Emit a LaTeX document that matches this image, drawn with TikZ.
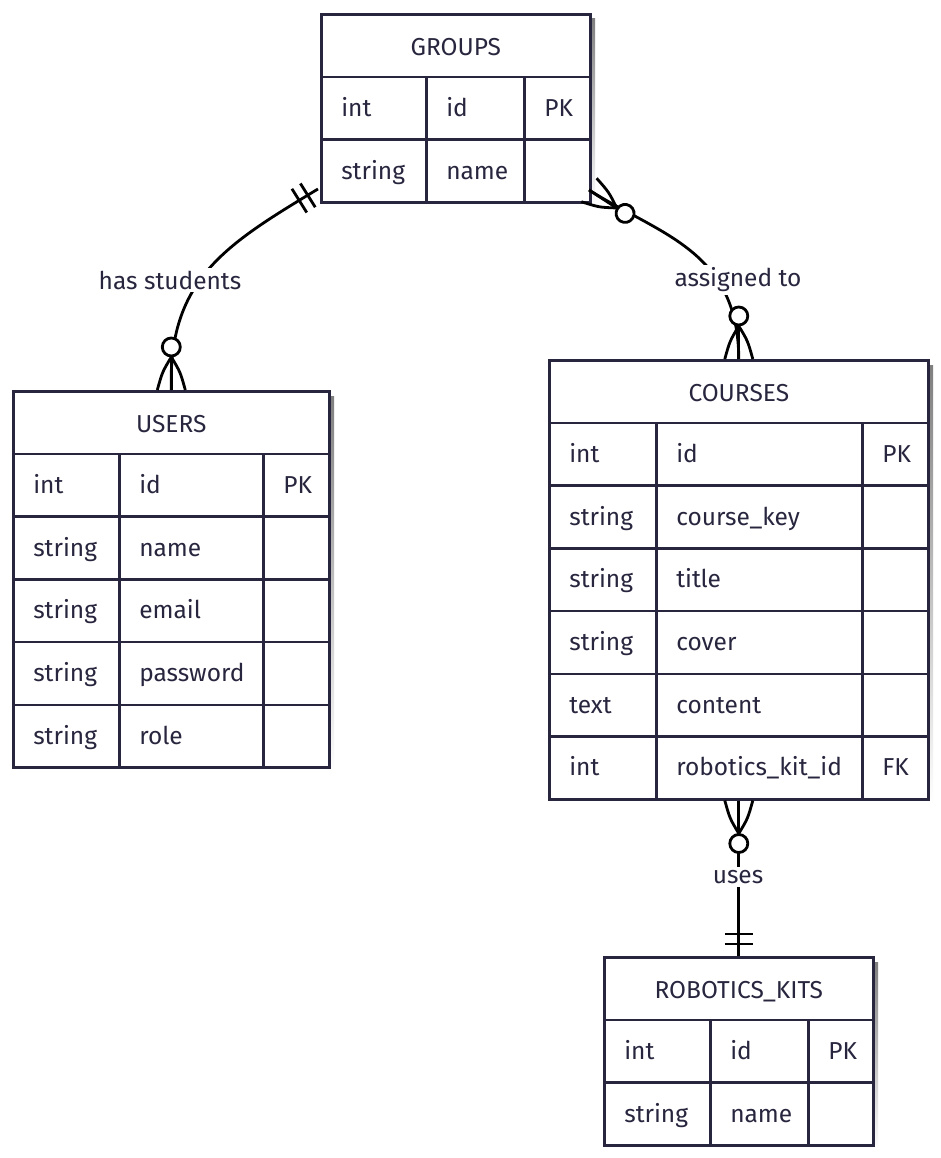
\documentclass[tikz,border=0pt]{standalone}
\usepackage{fontspec}
\setmainfont{Fira Sans}
\definecolor{ink}{RGB}{40,38,62}
\definecolor{shade}{RGB}{240,240,242}
\newcommand\cellfont{\fontsize{24.5}{28}\selectfont}

% One ER entity: name, left x, 2nd column x, 3rd column x, right x, top y, title, rows (type/name/key)
\newcommand\ertable[8]{%
  \pgfmathsetmacro\wT{#5-#2}%
  \pgfmathsetmacro\tA{#3-#2-40}%
  \pgfmathsetmacro\tB{#4-#3-40}%
  \pgfmathsetmacro\tC{#5-#4-40}%
  \def\rowh{62.7}%
  \foreach \ty/\nm/\ky [count=\i] in {#8}{\xdef\nrows{\i}}%
  \pgfmathsetmacro\ybot{#6+(\nrows+1)*\rowh}%
  \fill[shade] (#2+6,#6+6) rectangle (#5+6,\ybot+6);
  \node[hdrbox, minimum width=\wT pt] (#1-h) at (#2,#6) {#7};
  \foreach \ty/\nm/\ky [count=\i] in {#8}{%
    \pgfmathsetmacro\yy{#6+\i*\rowh}%
    \node[cellbox, text width=\tA pt] (#1-\i-a) at (#2,\yy) {\ty};
    \node[cellbox, text width=\tB pt] (#1-\i-b) at (#3,\yy) {\nm};
    \node[cellbox, text width=\tC pt] (#1-\i-c) at (#4,\yy) {\ky};
  }%
}

\tikzset{
  hdrbox/.style={draw=ink, line width=2.6pt, fill=white, anchor=north west,
    minimum height=62.7pt, inner sep=0pt, text=ink, font=\cellfont,
    text height=19pt, text depth=0pt},
  cellbox/.style={draw=ink, line width=2.6pt, fill=white, anchor=north west,
    minimum height=62.7pt, inner xsep=20pt, inner ysep=0pt, align=left,
    text=ink, font=\cellfont, text height=18pt, text depth=2pt},
  conn/.style={draw=black, line width=2.8pt},
  lbl/.style={fill=white, text=ink, font=\cellfont, inner sep=3pt},
  zeromany/.pic={
    \draw[conn] (-14,0) .. controls (-9,-18) .. (0,-33);
    \draw[conn] (14,0) .. controls (9,-18) .. (0,-33);
    \draw[conn] (0,0) -- (0,-33);
    \draw[conn, fill=white] (0,-43) circle (9);
  },
  exactlyone/.pic={
    \draw[conn] (-14,-12) -- (14,-12);
    \draw[conn] (-14,-22) -- (14,-22);
  },
}

\begin{document}
\begin{tikzpicture}[x=1pt, y=-1pt]
\useasboundingbox[fill=white] (0,0) rectangle (940,1158);

\ertable{groups}{320}{425}{523}{589}{13}{GROUPS}{int/id/PK, string/name/{}}
\ertable{users}{12}{118}{262}{328}{390}{USERS}{int/id/PK, string/name/{}, string/email/{}, string/password/{}, string/role/{}}
\ertable{courses}{548}{655}{861}{927}{359}{COURSES}{int/id/PK, string/course\_key/{}, string/title/{}, string/cover/{}, text/content/{}, int/robotics\_kit\_id/FK}
\ertable{kits}{603}{709}{807}{872}{956}{ROBOTICS\_KITS}{int/id/PK, string/name/{}}

\coordinate (gL) at (318,189);
\coordinate (gR) at (589,190);
\coordinate (cB) at (courses-h.north |- courses-6-a.south);

% GROUPS -- USERS
\draw[conn] (gL) .. controls (225,245) and (168,280) .. (users-h.north);
\node[lbl] (l1) at (170,280) {has students};
\pic[rotate=122] at (gL) {exactlyone};
\pic at (users-h.north) {zeromany};

% GROUPS -- COURSES
\draw[conn] (gR) .. controls (660,235) and (738,250) .. (courses-h.north);
\node[lbl] (l2) at (738,280) {assigned to};
\pic[rotate=-123] at (gR) {zeromany};
\pic at (courses-h.north) {zeromany};

% COURSES -- ROBOTICS_KITS
\draw[conn] (cB) -- (kits-h.north);
\node[lbl] (l3) at (738,877) {uses};
\pic[rotate=180] at (cB) {zeromany};
\pic at (kits-h.north) {exactlyone};
\end{tikzpicture}
\end{document}
